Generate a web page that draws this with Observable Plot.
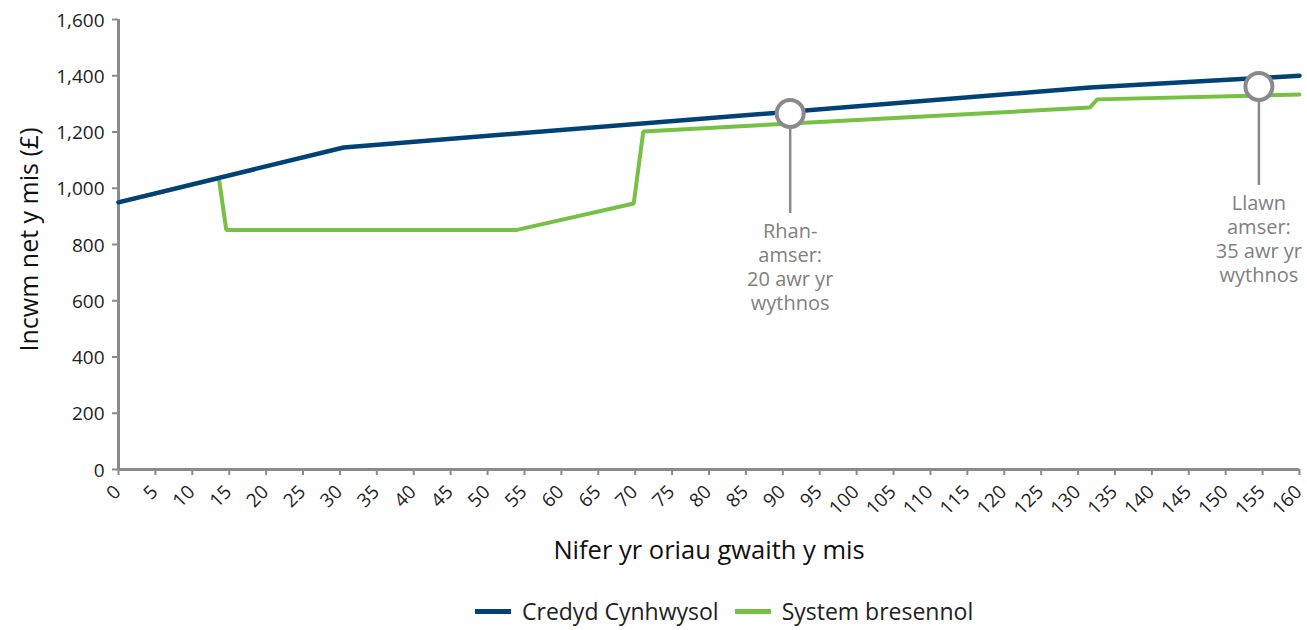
<!DOCTYPE html>
<html>
<head>
<meta charset="utf-8">
<script src="https://cdn.jsdelivr.net/npm/d3@7"></script>
<script src="https://cdn.jsdelivr.net/npm/@observablehq/plot@0.6"></script>
<style>
  html, body { margin: 0; padding: 0; background: #fff; }
  body { width: 1307px; height: 630px; overflow: hidden; font-family: "Open Sans", sans-serif; position: relative; }
  #legend { position: absolute; left: 475px; top: 596px; display: flex; align-items: center; font-size: 23px; color: #222; height: 30px; white-space: nowrap; }
  .item { display: flex; align-items: center; margin-right: 16px; }
  .sw { display: inline-block; width: 36px; height: 5px; margin-right: 11px; }
</style>
</head>
<body>
<div id="chart"></div>
<div id="legend"></div>
<script>
// Series
const seriesNames = ["Credyd Cynhwysol", "System bresennol"];
const seriesColors = ["#004276", "#76c043"];

const hoursUC = [0, 30.5, 131.6, 160];
const incomeUC = [950, 1145, 1358, 1400];

const hoursCurrent = [0, 13.6, 14.6, 54, 69.8, 71.1, 131.6, 132.6, 160];
const incomeCurrent = [950, 1035, 852, 852, 946, 1202, 1287, 1316, 1333];

// Ticks
const xTicks = d3.range(0, 161, 5);
const yTicks = d3.range(0, 1601, 200);

// Annotations
const annoX = [91, 154.5];
const annoY = [1266, 1362];
const annoLineEnd = [910, 1010];
const annoTextY = [882, 982];
const annoText = ["Rhan-\namser:\n20 awr yr\nwythnos", "Llawn\namser:\n35 awr yr\nwythnos"];

const uc = hoursUC.map((h, i) => ({h, v: incomeUC[i]}));
const cur = hoursCurrent.map((h, i) => ({h, v: incomeCurrent[i]}));
const anno = annoX.map((x, i) => ({x, y: annoY[i], y2: annoLineEnd[i], ty: annoTextY[i], t: annoText[i]}));

const axisGray = "#8a8a8d";
const tickFont = 19;

const plot = Plot.plot({
  width: 1307,
  height: 585,
  marginLeft: 118,
  marginRight: 8,
  marginTop: 19,
  marginBottom: 116,
  style: {fontFamily: "Open Sans, sans-serif", background: "#fff"},
  x: {domain: [0, 160]},
  y: {domain: [0, 1600]},
  marks: [
    Plot.axisY({ticks: yTicks, tickFormat: () => "", tickSize: 6, stroke: axisGray, strokeWidth: 2, label: null}),
    Plot.axisX({ticks: xTicks, tickFormat: () => "", tickSize: 6, stroke: axisGray, strokeWidth: 2, label: null}),
    Plot.text(yTicks, {x: 0, y: d => d, text: d => d3.format(",")(d), textAnchor: "end", lineAnchor: "middle", dx: -14, dy: 1, fontSize: tickFont, fill: "#222"}),
    Plot.text(xTicks, {x: d => d, y: 0, text: d => String(d), rotate: -45, textAnchor: "end", lineAnchor: "top", dx: -6, dy: 14, fontSize: tickFont, fill: "#222"}),
    Plot.ruleY([0], {stroke: axisGray, strokeWidth: 3}),
    Plot.ruleX([0], {stroke: axisGray, strokeWidth: 3}),
    Plot.line(cur, {x: "h", y: "v", stroke: seriesColors[1], strokeWidth: 4, strokeLinejoin: "miter"}),
    Plot.line(uc, {x: "h", y: "v", stroke: seriesColors[0], strokeWidth: 4.5, strokeLinejoin: "miter"}),
    Plot.ruleX(anno, {x: "x", y1: "y", y2: "y2", stroke: axisGray, strokeWidth: 2.5}),
    Plot.dot(anno, {x: "x", y: "y", r: 13.5, fill: "white", stroke: axisGray, strokeWidth: 4}),
    Plot.text(anno, {x: "x", y: "ty", text: "t", lineAnchor: "top", lineHeight: 1.2, fontSize: 20, fill: "#808080"}),
    Plot.text(["Incwm net y mis (£)"], {frameAnchor: "left", rotate: -90, dx: -89, dy: -5, textAnchor: "middle", lineAnchor: "middle", fontSize: 25, fill: "#111"}),
    Plot.text(["Nifer yr oriau gwaith y mis"], {frameAnchor: "bottom", dy: 81, textAnchor: "middle", lineAnchor: "middle", fontSize: 25.5, fill: "#111"})
  ]
});
document.getElementById("chart").appendChild(plot);

const legend = document.getElementById("legend");
seriesNames.forEach((n, i) => {
  const item = document.createElement("span");
  item.className = "item";
  const sw = document.createElement("span");
  sw.className = "sw";
  sw.style.background = seriesColors[i];
  const label = document.createElement("span");
  label.textContent = n;
  item.appendChild(sw);
  item.appendChild(label);
  legend.appendChild(item);
});
</script>
</body>
</html>
